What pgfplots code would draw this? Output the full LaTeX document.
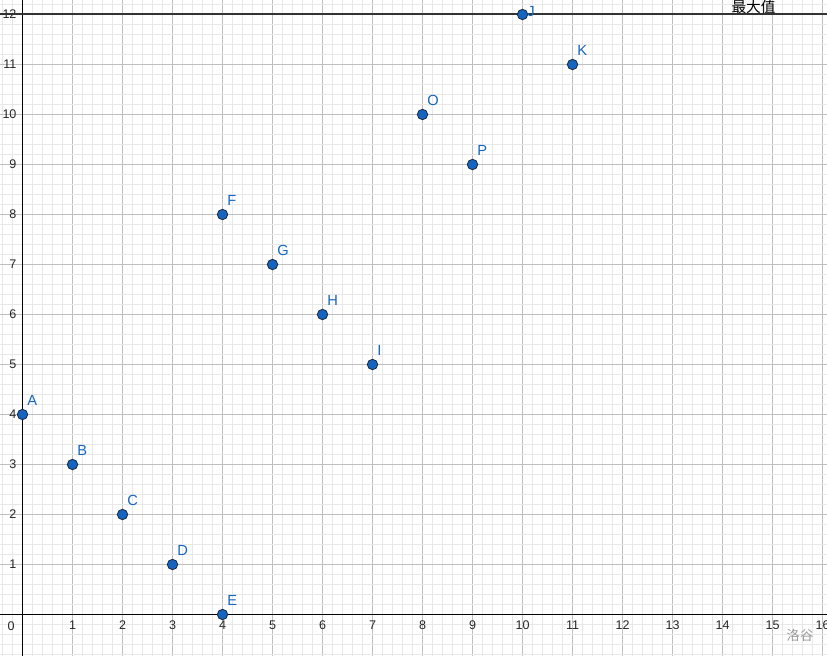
\documentclass[border=0pt]{standalone}
\usepackage{pgfplots}
\pgfplotsset{compat=1.18}
\usepackage{fontspec}
\setmainfont{Liberation Sans}
\newfontfamily\cjk{Noto Sans CJK SC}
\definecolor{ptblue}{HTML}{1565C0}
\definecolor{ptedge}{HTML}{1A2A40}
\pgfplotstableread{
x y label
0 4 A
1 3 B
2 2 C
3 1 D
4 0 E
4 8 F
5 7 G
6 6 H
7 5 I
11 11 K
8 10 O
9 9 P
}\pts
\pgfplotstableread{
x y label
10 12 J
}\ptj
\begin{document}
\begin{tikzpicture}
\begin{axis}[
  name=ax,
  scale only axis,
  width=620.25pt, height=492pt,
  xmin=-0.45, xmax=16.09, ymin=-0.83, ymax=12.29,
  axis lines=middle,
  axis line style={black, line width=0.75pt, -},
  xtick={1,...,16}, ytick={1,...,12},
  minor xtick={-0.4,-0.2,...,16.05},
  minor ytick={-0.8,-0.6,...,12.25},
  grid=both,
  major grid style={color=black!25, line width=0.75pt},
  minor grid style={color=black!9, line width=0.6pt},
  major tick length=0pt, minor tick length=0pt,
  tick label style={font=\fontsize{9.4}{10}\selectfont, text=black!85},
  /pgf/number format/assume math mode=true,
  xticklabel style={anchor=north, yshift=-1.5pt},
  yticklabel style={anchor=east, xshift=-1pt},
  clip=true,
]
\addplot[color=black!80, line width=1.5pt] coordinates {(-0.45,12) (16.09,12)};
\addplot[only marks, mark=*, mark size=3.9pt,
  mark options={fill=ptblue, draw=ptedge, line width=0.6pt},
  nodes near coords, point meta=explicit symbolic,
  every node near coord/.style={anchor=south west, inner sep=0pt, xshift=3.4pt, yshift=6.2pt, text=ptblue, font=\fontsize{11}{12}\selectfont},
] table[x=x, y=y, meta=label] {\pts};
\addplot[only marks, mark=*, mark size=3.9pt,
  mark options={fill=ptblue, draw=ptedge, line width=0.6pt},
  nodes near coords, point meta=explicit symbolic,
  every node near coord/.style={anchor=west, inner sep=0pt, xshift=3.4pt, yshift=2.2pt, text=ptblue, font=\fontsize{11}{12}\selectfont},
] table[x=x, y=y, meta=label] {\ptj};
\node[anchor=center, font=\fontsize{9.4}{10}\selectfont, text=black!85] at (axis cs:-0.23,-0.23) {0};
\node[anchor=south, inner sep=0pt, yshift=0.5pt, font=\cjk\fontsize{11}{12}\selectfont] at (axis cs:14.62,12) {最大值};
\node[font=\cjk\fontsize{10}{12}\selectfont, text=black!40] at (axis cs:15.55,-0.42) {洛谷};
\end{axis}
\pgfresetboundingbox
\path[use as bounding box] (ax.south west) rectangle (ax.north east);
\end{tikzpicture}
\end{document}
